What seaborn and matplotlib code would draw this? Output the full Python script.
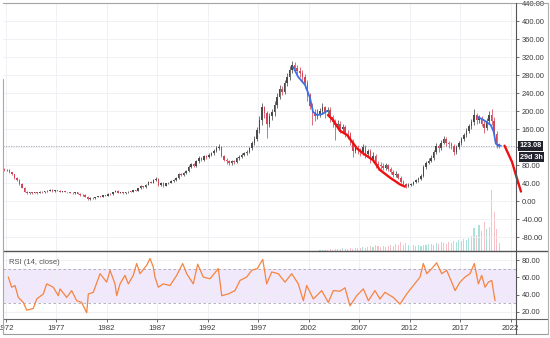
import numpy as np
import matplotlib
matplotlib.use("Agg")
import matplotlib.pyplot as plt
from matplotlib.lines import Line2D
from matplotlib.transforms import blended_transform_factory
import seaborn as sns

# ---- quarterly price candles, Q4 1971 .. Q4 2020 ----
first_quarter = 1971.875
first_open = 71
closes = [68,
          70, 64, 60, 52,   46, 38, 30, 21,   17, 20, 18, 19,   18, 21, 19, 22,
          23, 25, 22, 24,   23, 21, 22, 20,   19, 18, 17, 19,   16, 13, 14, 10,
          4, 7, 6, 9,       11, 10, 13, 12,   16, 15, 20, 23,   18, 20, 17, 19,
          21, 20, 24, 23,   28, 33, 31, 36,   43, 41, 47, 50,   36, 40, 34, 39,
          41, 45, 47, 52,   60, 57, 63, 66,   76, 82, 78, 88,   95, 92, 99, 97,
          102, 106, 112, 118, 121, 100, 92, 88, 84, 88, 86, 95,  98, 103, 106, 110,
          117, 128, 138, 158, 180, 208, 195, 172, 188, 198, 214, 232, 250, 243, 262, 276,
          292, 302, 296, 290, 284, 275, 262, 235, 212, 198, 188, 194, 200, 208, 197, 203,
          186, 175, 168, 172, 160, 165, 150, 148, 132, 112, 118, 113, 108, 120, 105, 112,
          92, 100, 82, 80,  78, 74, 79, 72,   65, 58, 61, 52,   42, 38, 33, 36,
          38, 42, 46, 50,   56, 76, 85, 90,   96, 108, 122, 118, 130, 138, 128, 126,
          122, 108, 120, 128, 138, 147, 156, 166, 175, 192, 180, 184, 172, 162, 178, 192,
          178, 150, 126, 123.08]
highs = [73,
         72, 71, 65, 61,   54, 48, 40, 31,   22, 21, 21, 20,   20, 22, 22, 23,
         24, 26, 26, 25,   25, 24, 23, 23,   21, 20, 19, 20,   20, 17, 15, 15,
         11, 8, 8, 10,     12, 12, 14, 14,   17, 17, 21, 25,   24, 21, 21, 20,
         22, 22, 25, 25,   29, 35, 34, 37,   45, 45, 48, 53,   52, 42, 42, 41,
         43, 47, 49, 54,   62, 62, 65, 69,   79, 85, 84, 91,   99, 98, 103, 102,
         106, 110, 116, 122, 126, 123, 103, 95, 91, 92, 92, 98, 102, 107, 110, 114,
         121, 133, 145, 165, 188, 218, 212, 200, 195, 205, 222, 240, 258, 255, 270, 285,
         300, 312, 308, 303, 298, 292, 283, 268, 240, 218, 205, 204, 206, 218, 212, 210,
         208, 192, 182, 180, 178, 172, 170, 158, 154, 138, 124, 124, 118, 126, 124, 116,
         115, 110, 104, 90, 86, 84, 84, 82,  76, 68, 66, 63,   55, 46, 40, 39,
         41, 45, 49, 53,   60, 80, 90, 96,   102, 114, 128, 126, 136, 145, 142, 134,
         131, 126, 124, 134, 142, 152, 162, 172, 182, 204, 196, 192, 190, 178, 184, 200,
         204, 186, 156, 130]
lows = [66,
        66, 62, 58, 50,   44, 36, 28, 19,   15, 16, 16, 17,   16, 17, 18, 18,
        21, 22, 21, 21,   22, 20, 20, 19,   18, 17, 16, 16,   15, 12, 12, 9,
        3, 3, 5, 5,       8, 9, 9, 11,      11, 14, 14, 19,   17, 17, 16, 16,
        18, 19, 19, 22,   22, 27, 30, 30,   35, 39, 40, 45,   34, 34, 32, 33,
        37, 40, 43, 45,   50, 55, 55, 61,   64, 73, 75, 76,   85, 89, 90, 94,
        95, 100, 103, 109, 114, 97, 88, 83, 80, 81, 82, 84,  91, 95, 100, 103,
        106, 113, 124, 134, 152, 170, 185, 139, 165, 180, 190, 206, 226, 235, 238, 255,
        270, 284, 288, 280, 276, 266, 252, 222, 205, 170, 178, 182, 186, 193, 185, 190,
        176, 165, 136, 160, 152, 153, 142, 138, 125, 98, 106, 104, 100, 103, 96, 98,
        85, 86, 74, 70,   70, 68, 70, 66,   60, 54, 54, 48,   39, 34, 29, 31,
        33, 35, 40, 43,   47, 53, 72, 82,   86, 92, 104, 110, 114, 126, 122, 118,
        116, 102, 104, 116, 124, 134, 142, 152, 160, 170, 172, 174, 166, 152, 158, 172,
        170, 142, 118, 117]

# ---- quarterly volume from Q1 2003 (millions) ----
volume_start = 2003.125
volume = [0.1, 0.1, 0.1, 0.1,  0.2, 0.1, 0.2, 0.2,  0.2, 0.3, 0.2, 0.2,
          0.3, 0.2, 0.3, 0.3,  0.3, 0.4, 0.3, 0.4,  0.5, 0.4, 0.6, 0.5,
          0.4, 0.5, 0.4, 0.5,  0.6, 0.5, 0.7, 0.6,  0.9, 0.6, 0.8, 0.6,
          0.5, 0.6, 0.5, 0.6,  0.5, 0.6, 0.6, 0.7,  0.7, 0.6, 0.8, 0.7,
          0.9, 0.8, 0.7, 0.9,  0.8, 1.0, 0.9, 1.1,  1.0, 1.2, 1.1, 1.3,
          1.5, 2.3, 1.6, 2.6,  2.0, 2.9, 2.2, 2.4,  6.1, 3.9, 2.2, 0.8]

# ---- trend overlays (year, price) ----
blue_down_1_years = [2000.47, 2000.96, 2001.65, 2002.14, 2002.44, 2002.84, 2003.33, 2003.82]
blue_down_1_vals = [298, 276, 258, 229, 198, 191, 193, 200]
red_down_years = [2003.92, 2004.42, 2005.11, 2005.80, 2006.79, 2007.39, 2008.38, 2009.07,
                  2010.06, 2011.05, 2011.54]
red_down_vals = [191, 180, 156, 147, 117, 106, 91, 69, 52, 37, 32]
blue_down_2_years = [2018.74, 2019.33, 2020.03, 2020.33, 2020.53, 2020.75, 2021.03]
blue_down_2_vals = [187, 180, 169, 154, 128, 123, 123]
red_proj_years = [2021.40, 2021.75, 2022.14, 2022.63, 2023.03]
red_proj_vals = [123, 106, 87, 50, 21]

# ---- RSI (14, close) ----
rsi_years = [1972.27, 1972.60, 1972.93, 1973.26, 1973.75, 1974.09, 1974.74, 1975.08, 1975.73,
             1976.07, 1976.72, 1977.22, 1977.39, 1978.05, 1978.54, 1979.04, 1979.53, 1980.03,
             1980.19, 1980.68, 1981.35, 1982.01, 1982.34, 1982.83, 1983.00, 1983.33, 1983.82,
             1984.15, 1984.64, 1984.98, 1985.31, 1985.97, 1986.30, 1986.62, 1986.79, 1987.12,
             1987.61, 1988.28, 1988.94, 1989.53, 1989.93, 1990.58, 1991.02, 1991.57, 1992.24,
             1993.06, 1993.40, 1994.05, 1994.71, 1995.21, 1995.87, 1996.37, 1996.92, 1997.46,
             1997.85, 1998.35, 1999.00, 1999.66, 2000.33, 2000.98, 2001.48, 2001.81, 2002.47,
             2003.30, 2003.95, 2004.45, 2005.11, 2005.60, 2006.10, 2006.76, 2007.42, 2007.92,
             2008.57, 2009.07, 2009.56, 2010.39, 2011.05, 2011.71, 2012.37, 2013.03, 2013.36,
             2013.70, 2014.19, 2014.68, 2015.18, 2015.67, 2016.17, 2016.50, 2016.99, 2017.49,
             2017.98, 2018.41, 2018.81, 2019.14, 2019.47, 2019.80, 2020.13, 2020.46]
rsi_vals = [60.4, 48.6, 50.6, 36.8, 31.0, 22.0, 24.0, 35.0, 40.8,
            52.5, 48.6, 38.8, 46.7, 36.8, 44.7, 33.0, 31.0, 19.0,
            40.8, 42.7, 64.3, 54.5, 68.2, 52.5, 38.8, 52.5, 62.4,
            52.5, 62.4, 76.1, 64.3, 74.1, 82.0, 72.1, 60.4, 48.6,
            52.5, 50.6, 62.4, 76.1, 64.3, 52.5, 75.3, 60.4, 58.4,
            70.2, 38.8, 40.8, 44.7, 56.5, 60.4, 68.2, 70.2, 80.8,
            52.5, 66.3, 64.3, 54.5, 64.3, 52.5, 33.0, 50.6, 35.0,
            44.7, 31.0, 44.7, 44.0, 48.0, 27.0, 38.8, 46.7, 33.0,
            44.7, 35.0, 42.7, 36.8, 29.0, 40.8, 50.6, 60.4, 76.1,
            64.3, 70.2, 76.9, 64.3, 68.2, 54.5, 44.7, 54.5, 60.4,
            64.3, 76.1, 52.5, 62.4, 48.6, 54.5, 56.5, 33.0]

year_ticks = [1972, 1977, 1982, 1987, 1992, 1997, 2002, 2007, 2012, 2017, 2022]
price_ticks = [-80, -40, 0, 40, 80, 120, 160, 200, 240, 280, 320, 360, 400, 440]
rsi_ticks = [20, 40, 60, 80]
last_price = 123.08
countdown = "29d 3h"

# ---- styling ----
sns.set_theme(style="white")
plt.rcParams["font.family"] = ["Liberation Sans", "DejaVu Sans"]

UP = "#4a4a4a"
DOWN = "#d2465a"
GRID = "#eceff3"
LABEL = "#3a3a3a"
W, H = 550, 338

fig = plt.figure(figsize=(W / 100, H / 100), dpi=100)
fig.patch.set_facecolor("white")
ax = fig.add_axes([3 / W, 1 - 251 / H, 513 / W, 248 / H])
axr = fig.add_axes([3 / W, 1 - 319 / H, 513 / W, 68 / H], sharex=ax)

x0, x1 = 1971.743, 2022.535
ax.set_xlim(x0, x1)
ax.set_ylim(-111, 440)
axr.set_ylim(11.8, 90.6)

# volume on a hidden twin axis, behind the candles
axv = ax.twinx()
axv.set_ylim(0, 24.8)
axv.set_yticks([])
for s in axv.spines.values():
    s.set_visible(False)
ax.set_zorder(axv.get_zorder() + 1)
ax.patch.set_visible(False)

n = len(closes)
qx = first_quarter + 0.25 * np.arange(n)
opens = [first_open] + closes[:-1]
up = np.array(closes) >= np.array(opens)

vx = volume_start + 0.25 * np.arange(len(volume))
vcol = []
for xv in vx:
    k = int(round((xv - first_quarter) / 0.25))
    vcol.append("#9edcd4" if up[k] else "#f5b8bd")
axv.bar(vx, volume, width=0.11, color=vcol, alpha=0.85, linewidth=0)

for xi, o, c, hi, lo, u in zip(qx, opens, closes, highs, lows, up):
    col = UP if u else DOWN
    ax.vlines(xi, lo, hi, color=col, lw=0.55, zorder=3)
    body = max(abs(c - o), 1.2)
    ax.bar(xi, body, bottom=min(o, c), width=0.15, color=col, linewidth=0, zorder=3)

# current price guide
ax.axhline(last_price, color="#9ea2ab", lw=0.6, ls=(0, (1.5, 1.5)), zorder=2)

# trend overlays
sns.lineplot(x=blue_down_1_years, y=blue_down_1_vals, ax=ax, color="#3b6fe8", lw=1.3, zorder=5)
sns.lineplot(x=red_down_years, y=red_down_vals, ax=ax, color="#ee1111", lw=1.7, zorder=5)
sns.lineplot(x=blue_down_2_years, y=blue_down_2_vals, ax=ax, color="#3b6fe8", lw=1.3, zorder=5)
sns.lineplot(x=red_proj_years, y=red_proj_vals, ax=ax, color="#ee1111", lw=1.7, zorder=5)
ax.lines[-1].set_clip_on(False)

# RSI panel
axr.axhspan(30, 70, color="#f2e8fc", lw=0, zorder=0)
axr.axhline(70, color="#a7a7b0", lw=0.6, ls=(0, (3, 3)), zorder=1)
axr.axhline(30, color="#a7a7b0", lw=0.6, ls=(0, (3, 3)), zorder=1)
sns.lineplot(x=rsi_years, y=rsi_vals, ax=axr, color="#f5843f", lw=0.9, zorder=4)
axr.text(0.011, 0.83, "RSI (14, close)", transform=axr.transAxes, fontsize=5.5,
         color="#555555", va="center", ha="left")

for a in (ax, axr):
    a.grid(True, color=GRID, lw=0.6, zorder=0)
    a.set_axisbelow(True)
    a.set_xlabel("")
    a.set_ylabel("")
    for s in a.spines.values():
        s.set_visible(False)
    a.yaxis.tick_right()
    a.tick_params(axis="y", which="both", right=True, length=2.5, width=0.6,
                  color="#555555", pad=1.5, labelsize=5.4, labelcolor=LABEL)

# the 120 level sits under the last-price tag, so its label stays empty
ax.set_yticks(price_ticks)
ax.set_yticklabels(["" if v == 120 else f"{v:.2f}" for v in price_ticks])
axr.set_yticks(rsi_ticks)
axr.set_yticklabels([f"{v:.2f}" for v in rsi_ticks])

axr.set_xticks(year_ticks)
axr.set_xticklabels([str(y) for y in year_ticks])
axr.tick_params(axis="x", bottom=True, length=2, width=0.6, color="#555555",
                pad=2.5, labelsize=5.6, labelcolor=LABEL)
ax.tick_params(axis="x", bottom=False, labelbottom=False)

# last price and countdown tags on the price scale
tr = blended_transform_factory(ax.transAxes, ax.transData)
ax.text(1.006, last_price, f"{last_price:.2f}", transform=tr, fontsize=5.2, color="white",
        ha="left", va="center", fontweight="bold", zorder=10, clip_on=False,
        bbox=dict(boxstyle="square,pad=0.2", fc="#20232b", ec="none"))
ax.text(1.008, last_price - 25.5, countdown, transform=tr, fontsize=5.2, color="white",
        ha="left", va="center", fontweight="bold", zorder=10, clip_on=False,
        bbox=dict(boxstyle="square,pad=0.2", fc="#20232b", ec="none"))


def frame_line(xa, ya, xb, yb, color, lw):
    fig.add_artist(Line2D([xa / W, xb / W], [1 - ya / H, 1 - yb / H],
                          transform=fig.transFigure, color=color, lw=lw))


frame_line(3, 3, 548, 3, "#a3a3a3", 0.8)
frame_line(3, 251, 548, 251, "#555555", 1.0)
frame_line(3, 319, 548, 319, "#666666", 0.8)
frame_line(3, 333.5, 548, 333.5, "#9a9a9a", 0.8)
frame_line(516, 3, 516, 333.5, "#555555", 0.8)
frame_line(548, 3, 548, 333.5, "#b0b0b0", 0.8)
frame_line(3, 79, 3, 333.5, "#a8a8a8", 0.8)

fig.savefig("out.png", dpi=100, facecolor="white")
